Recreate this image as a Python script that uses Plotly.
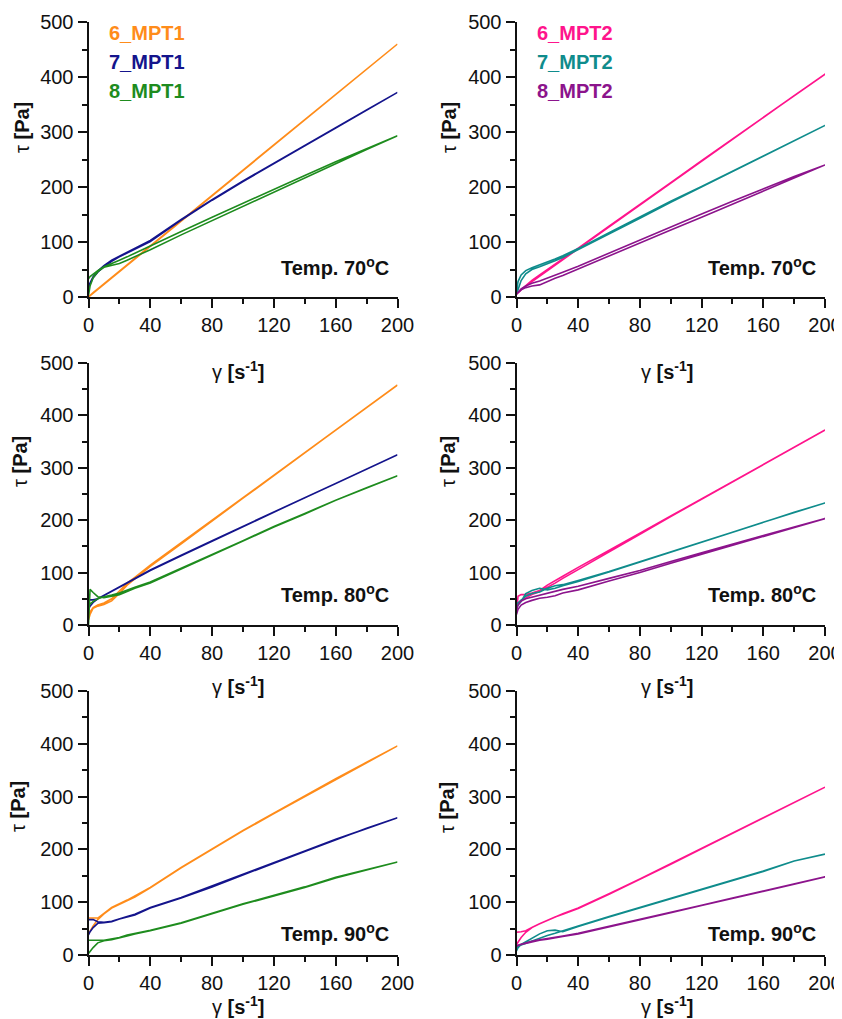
import plotly.graph_objects as go

# the page body adds an 8 px margin, so the figure is 8 px smaller on each side
OFF = 8
W, H = 842 - OFF, 1019 - OFF

# shear rate grid (s^-1), shared by all curves
gamma = [0, 1, 3, 6, 10, 15, 20, 25, 30, 40, 60, 80, 100, 120, 140, 160, 180, 200]

x_ticks = [0, 40, 80, 120, 160, 200]
y_ticks = [0, 100, 200, 300, 400, 500]

# ---- 70 °C, MPT1 ----
t70_6_MPT1_up   = [0, 3, 8, 15, 24, 36, 47, 59, 70, 93, 139, 185, 231, 277, 323, 368, 414, 460]
t70_6_MPT1_down = [0, 2, 7, 14, 23, 35, 46, 58, 69, 92, 138, 184, 231, 277, 323, 369, 415, 460]
t70_7_MPT1_up   = [15, 24, 35, 45, 55, 65, 73, 80, 87, 101, 140, 176, 210, 243, 275, 307, 340, 372]
t70_7_MPT1_down = [20, 27, 37, 47, 57, 67, 75, 82, 89, 103, 141, 177, 211, 244, 276, 308, 340, 372]
t70_8_MPT1_up   = [3, 20, 35, 46, 54, 57, 61, 67, 73, 86, 113, 139, 165, 190, 216, 242, 268, 293]
t70_8_MPT1_down = [33, 37, 42, 48, 55, 61, 67, 73, 79, 92, 119, 145, 171, 196, 221, 246, 270, 293]

# ---- 70 °C, MPT2 ----
t70_6_MPT2_up   = [5, 8, 13, 20, 28, 38, 48, 58, 68, 87, 127, 167, 207, 247, 286, 326, 366, 405]
t70_6_MPT2_down = [6, 9, 14, 21, 30, 40, 50, 60, 70, 89, 129, 169, 208, 248, 287, 327, 366, 405]
t70_7_MPT2_up   = [10, 28, 40, 48, 53, 58, 63, 69, 75, 88, 117, 146, 174, 201, 229, 257, 284, 312]
t70_7_MPT2_down = [5, 15, 30, 42, 50, 55, 60, 66, 72, 85, 114, 143, 172, 200, 228, 256, 284, 312]
t70_8_MPT2_up   = [5, 9, 15, 20, 25, 29, 34, 40, 45, 56, 80, 104, 128, 151, 174, 197, 219, 240]
t70_8_MPT2_down = [5, 8, 13, 17, 20, 22, 28, 34, 39, 50, 74, 98, 122, 145, 168, 192, 216, 240]

# ---- 80 °C, MPT1 ----
t80_6_MPT1_up   = [10, 20, 32, 36, 39, 46, 60, 76, 88, 112, 155, 199, 242, 285, 329, 372, 415, 458]
t80_6_MPT1_down = [18, 25, 33, 38, 42, 50, 65, 80, 91, 114, 157, 200, 243, 286, 330, 373, 415, 458]
t80_7_MPT1_up   = [30, 36, 43, 50, 56, 64, 72, 80, 88, 104, 132, 160, 187, 215, 243, 270, 298, 325]
t80_7_MPT1_down = [48, 48, 48, 50, 57, 65, 73, 81, 89, 105, 133, 161, 188, 216, 243, 270, 298, 325]
t80_8_MPT1_up   = [0, 68, 62, 54, 52, 55, 58, 64, 70, 80, 107, 134, 160, 187, 212, 238, 262, 285]
t80_8_MPT1_down = [36, 40, 45, 50, 54, 57, 61, 66, 72, 82, 108, 135, 161, 188, 213, 238, 262, 285]

# ---- 80 °C, MPT2 ----
t80_6_MPT2_up   = [25, 55, 58, 58, 61, 66, 76, 84, 93, 110, 142, 175, 208, 241, 274, 306, 339, 372]
t80_6_MPT2_down = [35, 40, 47, 52, 58, 64, 72, 80, 89, 107, 140, 173, 207, 240, 273, 306, 339, 372]
t80_7_MPT2_up   = [30, 38, 45, 60, 66, 70, 67, 70, 75, 83, 101, 120, 140, 158, 177, 196, 215, 233]
t80_7_MPT2_down = [40, 42, 48, 55, 60, 63, 70, 75, 77, 85, 102, 121, 140, 158, 177, 196, 215, 233]
t80_8_MPT2_up   = [20, 30, 38, 43, 47, 51, 53, 56, 61, 67, 84, 100, 118, 135, 152, 169, 186, 203]
t80_8_MPT2_down = [30, 38, 46, 50, 53, 56, 60, 64, 68, 74, 89, 104, 121, 138, 155, 171, 187, 203]

# ---- 90 °C, MPT1 ----
t90_6_MPT1_up   = [40, 46, 55, 67, 78, 89, 96, 103, 110, 127, 165, 200, 235, 268, 300, 333, 364, 396]
t90_6_MPT1_down = [70, 70, 70, 70, 79, 90, 97, 104, 111, 128, 166, 201, 236, 269, 301, 334, 365, 396]
t90_7_MPT1_up   = [38, 44, 52, 60, 61, 63, 68, 72, 76, 89, 108, 129, 152, 174, 196, 218, 240, 260]
t90_7_MPT1_down = [67, 67, 67, 63, 62, 64, 69, 73, 77, 90, 109, 130, 153, 175, 197, 219, 240, 260]
t90_8_MPT1_up   = [3, 7, 14, 23, 27, 29, 32, 36, 40, 46, 60, 78, 96, 112, 128, 146, 161, 176]
t90_8_MPT1_down = [28, 28, 28, 28, 28, 30, 33, 38, 41, 47, 61, 79, 97, 113, 129, 147, 162, 176]

# ---- 90 °C, MPT2 ----
t90_6_MPT2_up   = [20, 25, 33, 43, 52, 59, 66, 72, 77, 88, 115, 143, 172, 201, 230, 259, 289, 318]
t90_6_MPT2_down = [43, 43, 44, 46, 52, 59, 66, 72, 78, 89, 116, 144, 173, 202, 231, 260, 289, 318]
t90_7_MPT2_up   = [8, 14, 20, 25, 31, 40, 46, 47, 44, 54, 72, 89, 106, 123, 141, 158, 178, 191]
t90_7_MPT2_down = [15, 16, 19, 22, 26, 32, 37, 41, 45, 55, 73, 90, 107, 124, 142, 159, 178, 191]
t90_8_MPT2_up   = [16, 18, 20, 22, 25, 28, 30, 33, 35, 40, 53, 67, 80, 94, 107, 121, 134, 148]
t90_8_MPT2_down = [18, 19, 21, 23, 26, 29, 31, 34, 36, 41, 54, 67, 81, 94, 108, 121, 135, 148]

names_MPT1 = ["6_MPT1", "7_MPT1", "8_MPT1"]
names_MPT2 = ["6_MPT2", "7_MPT2", "8_MPT2"]
colors_MPT1 = ["#FF8C1A", "#14148C", "#1E8C1E"]
colors_MPT2 = ["#FF148C", "#0F8C8C", "#8C148C"]

panels = [
    (0, 0, "70", names_MPT1, colors_MPT1, [(t70_6_MPT1_up, t70_6_MPT1_down), (t70_7_MPT1_up, t70_7_MPT1_down), (t70_8_MPT1_up, t70_8_MPT1_down)]),
    (0, 1, "70", names_MPT2, colors_MPT2, [(t70_6_MPT2_up, t70_6_MPT2_down), (t70_7_MPT2_up, t70_7_MPT2_down), (t70_8_MPT2_up, t70_8_MPT2_down)]),
    (1, 0, "80", names_MPT1, colors_MPT1, [(t80_6_MPT1_up, t80_6_MPT1_down), (t80_7_MPT1_up, t80_7_MPT1_down), (t80_8_MPT1_up, t80_8_MPT1_down)]),
    (1, 1, "80", names_MPT2, colors_MPT2, [(t80_6_MPT2_up, t80_6_MPT2_down), (t80_7_MPT2_up, t80_7_MPT2_down), (t80_8_MPT2_up, t80_8_MPT2_down)]),
    (2, 0, "90", names_MPT1, colors_MPT1, [(t90_6_MPT1_up, t90_6_MPT1_down), (t90_7_MPT1_up, t90_7_MPT1_down), (t90_8_MPT1_up, t90_8_MPT1_down)]),
    (2, 1, "90", names_MPT2, colors_MPT2, [(t90_6_MPT2_up, t90_6_MPT2_down), (t90_7_MPT2_up, t90_7_MPT2_down), (t90_8_MPT2_up, t90_8_MPT2_down)]),
]

# panel positions in screen pixels
col_px = [(88.5, 397.5), (516.5, 825.0)]
row_px = [(22, 297), (363, 625), (691, 955)]

def px_x(p):
    return (p - OFF) / W

def px_y(p):
    return 1 - (p - OFF) / H

FONT = "Liberation Sans, Arial, sans-serif"
fig = go.Figure()
annotations = []

for i, (r, c, temp, names, colors, curves) in enumerate(panels):
    ax = "" if i == 0 else str(i + 1)
    xa, ya = "x" + ax, "y" + ax
    for name, color, (up, down) in zip(names, colors, curves):
        fig.add_trace(go.Scatter(
            x=gamma + gamma[::-1], y=up + down[::-1],
            mode="lines", name=name, showlegend=False,
            line=dict(color=color, width=1.6),
            xaxis=xa, yaxis=ya,
        ))
    x0, x1 = col_px[c]
    y0, y1 = row_px[r]
    common = dict(
        showline=True, linecolor="#111", linewidth=2, mirror=False,
        ticks="outside", ticklen=9, tickwidth=2, tickcolor="#111",
        showgrid=False, zeroline=False, automargin=False,
        tickfont=dict(family=FONT, size=20, color="#111"),
    )
    fig.layout["xaxis" + ax] = dict(
        common, domain=[px_x(x0), px_x(x1)], range=[0, 200],
        tickvals=x_ticks, anchor=ya,
        minor=dict(ticks="outside", ticklen=5, tickwidth=2, tickcolor="#111", dtick=20, tick0=0),
    )
    fig.layout["yaxis" + ax] = dict(
        common, domain=[px_y(y1), px_y(y0)], range=[0, 500],
        tickvals=y_ticks, anchor=xa,
        minor=dict(ticks="outside", ticklen=5, tickwidth=2, tickcolor="#111", dtick=50, tick0=0),
    )

    if r == 0:
        for k, (name, color) in enumerate(zip(names, colors)):
            annotations.append(dict(
                x=px_x(x0 + 18), y=px_y(33 + 29 * k), xref="paper", yref="paper",
                text="<b>%s</b>" % name, showarrow=False, xanchor="left", yanchor="middle",
                font=dict(family=FONT, size=20, color=color),
            ))

    temp_y = [267, 593, 932][r]
    annotations.append(dict(
        x=px_x(x1 - 7), y=px_y(temp_y), xref="paper", yref="paper",
        text="<b>Temp. %s<sup>o</sup>C</b>" % temp, showarrow=False,
        xanchor="right", yanchor="middle",
        font=dict(family=FONT, size=20, color="#111"),
    ))

    tau_x = [[22, 449], [20, 448], [18, 447]][r][c]
    tau_y = [128, 462, 807][r]
    annotations.append(dict(
        x=px_x(tau_x), y=px_y(tau_y), xref="paper", yref="paper",
        text="τ <b>[Pa]</b>", showarrow=False, textangle=-90,
        xanchor="center", yanchor="middle",
        font=dict(family=FONT, size=20, color="#111"),
    ))

    g_x = [238, 667][c]
    g_y = [370, 685, 1005][r]
    annotations.append(dict(
        x=px_x(g_x), y=px_y(g_y), xref="paper", yref="paper",
        text="γ <b>[s<sup>-1</sup>]</b>", showarrow=False,
        xanchor="center", yanchor="middle",
        font=dict(family=FONT, size=20, color="#111"),
    ))

fig.update_layout(
    width=W, height=H, autosize=False,
    margin=dict(l=0, r=0, t=0, b=0, pad=0, autoexpand=False),
    paper_bgcolor="white", plot_bgcolor="white",
    showlegend=False,
    annotations=annotations,
)

fig.write_html("out.html")
